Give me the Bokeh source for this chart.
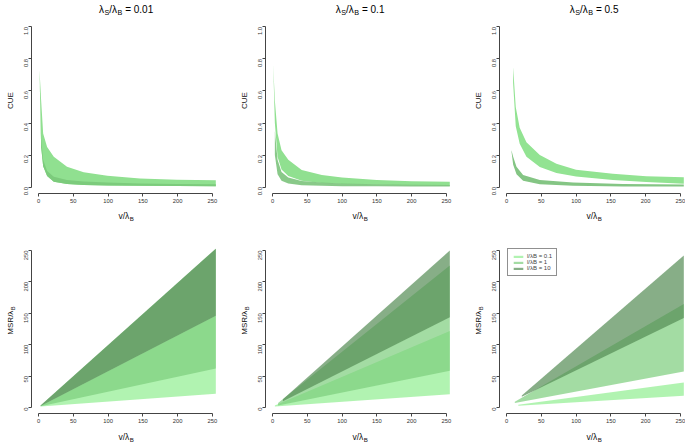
import math
from bokeh.plotting import figure
from bokeh.layouts import row, column
from bokeh.models import (Range1d, FixedTicker, Label, Legend, LegendItem,
                          PrintfTickFormatter)
from bokeh.embed import file_html
from bokeh.resources import INLINE

FONT = "Liberation Sans"

# ---------------- data ----------------
ratio_labels = ["0.01", "0.1", "0.5"]
series_labels = ["l/\u03bbB = 0.1", "l/\u03bbB = 1", "l/\u03bbB = 10"]
series_colors = ["#90EE90", "#7CCD7C", "#548B54"]
cue_ticks = [0.0, 0.2, 0.4, 0.6, 0.8, 1.0]
msr_ticks = [0, 50, 100, 150, 200, 250]
v_ticks = [0, 50, 100, 150, 200, 250]

# CUE panels: (v, lower, upper) bands
cue1_v = [1.5, 3.8, 6.7, 12.4, 22, 41, 65, 99, 146, 199, 255]
cue1_upper = [0.73, 0.54, 0.335, 0.25, 0.19, 0.127, 0.092, 0.071, 0.054, 0.046, 0.042]
cue1_lower = [0.72, 0.25, 0.13, 0.07, 0.034, 0.019, 0.013, 0.010, 0.008, 0.007, 0.006]
cue1_mid = [0.72, 0.30, 0.17, 0.10, 0.065, 0.045, 0.035, 0.028, 0.023, 0.020, 0.018]

cue2_v = [1.0, 3.4, 7.3, 13, 22.7, 42, 71, 100, 150, 200, 255]
cue2_upper = [0.77, 0.54, 0.335, 0.23, 0.17, 0.106, 0.075, 0.06, 0.044, 0.036, 0.034]
cue2_lower = [0.77, 0.40, 0.19, 0.11, 0.07, 0.040, 0.026, 0.020, 0.014, 0.011, 0.009]
cue2_low_v = [3.4, 7.3, 13, 22.7, 42, 71, 100, 150, 200, 255]
cue2_low_upper = [0.35, 0.17, 0.095, 0.060, 0.038, 0.028, 0.022, 0.017, 0.014, 0.013]
cue2_low_lower = [0.20, 0.08, 0.040, 0.022, 0.012, 0.008, 0.006, 0.005, 0.004, 0.004]

cue3_v = [9.5, 13.3, 19, 28.7, 47.9, 71.8, 100, 153, 201, 255]
cue3_upper = [0.75, 0.50, 0.37, 0.28, 0.20, 0.145, 0.108, 0.083, 0.068, 0.062]
cue3_lower = [0.65, 0.38, 0.27, 0.19, 0.125, 0.088, 0.066, 0.045, 0.032, 0.021]
cue3_low_v = [7.2, 9.6, 14.4, 23.9, 47.9, 95.8, 167.6, 255]
cue3_low_upper = [0.23, 0.19, 0.127, 0.075, 0.044, 0.028, 0.019, 0.016]
cue3_low_lower = [0.22, 0.14, 0.080, 0.040, 0.018, 0.008, 0.004, 0.003]

# MSR panels: per series (v, lower, upper)
msr1_v = [[3, 255], [3, 255], [3, 255]]
msr1_lower = [[1.5, 22], [2, 62], [2.5, 146]]
msr1_upper = [[2.5, 146], [3, 253], [3, 253]]

msr2_v = [[3.4, 255], [8, 255], [15, 255]]
msr2_lower = [[1.5, 21], [3, 58.5], [10, 143.6]]
msr2_upper = [[3, 122], [7, 226], [13, 250]]

msr3_v = [[17, 255], [12, 255], [22, 255]]
msr3_lower = [[2.7, 18.7], [7, 57.4], [17, 142.6]]
msr3_upper = [[4.5, 40], [9, 165], [19, 242]]

# ---------------- layout ----------------
col_w = [234, 234, 217]
CELL_H = 221
FRAME_W, FRAME_H = 185, 173
LEFT = 31          # cell left edge -> frame left
YLW = 17           # width of the y-label strip
MB = 14            # main figure bottom border (tick labels)
TOPS = [20, 19]
XLAB_DROP = [22.6, 23.8]
X_RANGE = (-10.06, 256)
Y_RANGES = [(-0.04, 1.04), (-9.57, 266)]
PXU = FRAME_W / (X_RANGE[1] - X_RANGE[0])

W = {'\u03bb': 549, 'S': 667, 'B': 667, '/': 278, ' ': 278, '=': 584, '0': 556,
     '1': 556, '5': 556, '.': 278, 'v': 500, 'M': 833, 'R': 722, 'C': 722,
     'U': 722, 'E': 667, 'l': 222}


def tw(s, fs):
    return sum(W.get(ch, 556) for ch in s) * fs / 1000.0


def rich(p, x, y, pieces, fs, x_off, y_off, angle=0.0, color="#111111"):
    sfs = fs * 0.72
    widths = [tw(t, sfs if s else fs) for t, s in pieces]
    pos = -sum(widths) / 2.0
    for (t, s), w in zip(pieces, widths):
        f = sfs if s else fs
        drop = fs * 0.25 if s else 0.0
        stripped = t.lstrip(" ")
        lead = tw(t[:len(t) - len(stripped)], f)
        if angle == 0.0:
            xo, yo = x_off + pos + lead, y_off - drop
        else:
            xo, yo = x_off + drop, y_off + pos + lead
        p.add_layout(Label(x=x, y=y, x_offset=xo, y_offset=yo, text=stripped,
                           angle=angle, text_align="left",
                           text_baseline="alphabetic", text_font=FONT,
                           text_font_size="%.1fpx" % f, text_color=color))
        pos += w


def blank_fig(w, h, xr, yr):
    f = figure(width=w, height=h, output_backend="svg", toolbar_location=None,
               x_range=Range1d(*xr), y_range=Range1d(*yr),
               x_axis_type=None, y_axis_type=None,
               min_border=0, min_border_left=0, min_border_right=0,
               min_border_top=0, min_border_bottom=0)
    f.outline_line_color = None
    f.background_fill_color = "white"
    f.border_fill_color = "white"
    return f


def make_main(r, c):
    w = col_w[c] - YLW
    h = FRAME_H + MB
    p = figure(width=w, height=h, output_backend="svg", toolbar_location=None,
               x_range=Range1d(*X_RANGE), y_range=Range1d(*Y_RANGES[r]),
               min_border_left=LEFT - YLW,
               min_border_right=col_w[c] - LEFT - FRAME_W,
               min_border_top=0, min_border_bottom=MB)
    p.outline_line_color = None
    p.xgrid.visible = False
    p.ygrid.visible = False
    p.background_fill_color = "white"
    p.border_fill_color = "white"
    for ax in (p.xaxis[0], p.yaxis[0]):
        ax.axis_line_color = "#444444"
        ax.major_tick_line_color = "#444444"
        ax.major_tick_out = 3
        ax.major_tick_in = 0
        ax.minor_tick_line_color = None
        ax.major_label_text_font = FONT
        ax.major_label_text_font_size = "5.8px"
        ax.major_label_text_color = "#333333"
        ax.major_label_standoff = 2
    p.xaxis.ticker = FixedTicker(ticks=v_ticks)
    p.xaxis.bounds = (v_ticks[0], v_ticks[-1])
    if r == 0:
        p.yaxis.ticker = FixedTicker(ticks=cue_ticks)
        p.yaxis.formatter = PrintfTickFormatter(format="%.1f")
        p.yaxis.bounds = (cue_ticks[0], cue_ticks[-1])
    else:
        p.yaxis.ticker = FixedTicker(ticks=msr_ticks)
        p.yaxis.bounds = (msr_ticks[0], msr_ticks[-1])
    p.yaxis.major_label_orientation = math.pi / 2
    return p


def make_cell(r, c, main):
    w = col_w[c]
    top = TOPS[r]
    foot = CELL_H - top - FRAME_H - MB
    x0 = X_RANGE[0] - LEFT / PXU
    xr = (x0, x0 + w / PXU)
    hdr = blank_fig(w, top, xr, (0, top))
    ftr = blank_fig(w, foot, xr, (0, foot))
    ylab = blank_fig(YLW, FRAME_H + MB, (0, YLW), (0, FRAME_H + MB))
    # x-axis label
    rich(ftr, 126.0, foot, [("v/\u03bb", False), ("B", True)], 8.5, 0,
         -(XLAB_DROP[r] - MB))
    # y-axis label
    yc = MB + FRAME_H / 2.0
    if r == 0:
        rich(ylab, 0, yc, [("CUE", False)], 8.0, LEFT - 21, 0, angle=math.pi / 2)
        rich(hdr, 126.0, 0, [("\u03bb", False), ("S", True), ("/\u03bb", False),
                            ("B", True), (" = " + ratio_labels[c], False)],
             10.0, 0, 10.7, color="#000000")
    else:
        rich(ylab, 0, yc, [("MSR/\u03bb", False), ("B", True)], 8.0, LEFT - 21, 0,
             angle=math.pi / 2)
    return column(hdr, row(ylab, main), ftr)


mains = [[make_main(r, c) for c in range(3)] for r in range(2)]

# top row bands
t1, t2, t3 = mains[0]
t1.varea(x=cue1_v, y1=cue1_lower, y2=cue1_upper, fill_color="#90E090")
t1.varea(x=cue1_v, y1=cue1_lower, y2=cue1_mid, fill_color="#7CCB7C")

t2.varea(x=cue2_v, y1=cue2_lower, y2=cue2_upper, fill_color="#90E090")
t2.varea(x=cue2_low_v, y1=cue2_low_lower, y2=cue2_low_upper, fill_color="#7CC37C",
         fill_alpha=0.9)

t3.varea(x=cue3_v, y1=cue3_lower, y2=cue3_upper, fill_color="#92E392")
t3.varea(x=cue3_low_v, y1=cue3_low_lower, y2=cue3_low_upper, fill_color="#84C584")

# bottom row bands
msr_sets = [(msr1_v, msr1_lower, msr1_upper),
            (msr2_v, msr2_lower, msr2_upper),
            (msr3_v, msr3_lower, msr3_upper)]
last_rends = []
for c, (vs, lows, ups) in enumerate(msr_sets):
    p = mains[1][c]
    rends = []
    for k in range(3):
        rends.append(p.varea(x=vs[k], y1=lows[k], y2=ups[k],
                             fill_color=series_colors[k], fill_alpha=0.7))
    last_rends = rends

p = mains[1][2]
legend = Legend(items=[LegendItem(label=series_labels[k], renderers=[last_rends[k]])
                       for k in range(3)],
                location="top_left", margin=8, padding=4, spacing=0,
                glyph_width=12, glyph_height=3, label_height=6,
                label_standoff=3, label_text_font=FONT,
                label_text_font_size="6px", border_line_color="#222222",
                border_line_width=1, background_fill_alpha=1.0)
p.add_layout(legend)

cells = [[make_cell(r, c, mains[r][c]) for c in range(3)] for r in range(2)]
layout = column(row(*cells[0]), row(*cells[1]))
open("out.html", "w").write(file_html(layout, INLINE))
